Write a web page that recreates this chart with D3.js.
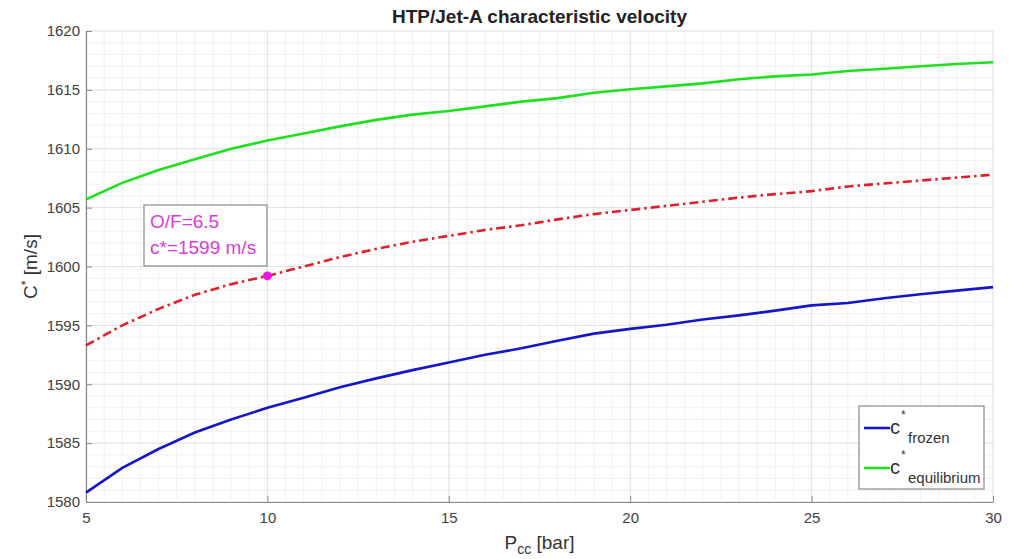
<!DOCTYPE html>
<html>
<head>
<meta charset="utf-8">
<script src="https://cdn.jsdelivr.net/npm/d3@7"></script>
<style>
  body { margin: 0; background: #fff; }
  svg { font-family: "Liberation Sans", Arial, sans-serif; }
</style>
</head>
<body>
<svg id="canvas" width="1022" height="559"></svg>
<script>
// chamber pressure [bar]
let pcc = [5, 6, 7, 8, 9, 10, 11, 12, 13, 14, 15, 16, 17, 18, 19, 20, 21, 22, 23, 24, 25, 26, 27, 28, 29, 30]

// c* values [m/s]
let c_frozen = [1580.8, 1582.9, 1584.5, 1585.9, 1587.0, 1588.0, 1588.85, 1589.75, 1590.5, 1591.2,
                1591.85, 1592.5, 1593.05, 1593.7, 1594.3, 1594.7, 1595.05, 1595.5, 1595.85, 1596.25,
                1596.7, 1596.9, 1597.3, 1597.65, 1597.95, 1598.25]
let c_equil = [1605.7, 1607.1, 1608.2, 1609.1, 1610.0, 1610.7, 1611.3, 1611.9, 1612.45, 1612.9,
               1613.2, 1613.6, 1614.0, 1614.3, 1614.75, 1615.05, 1615.3, 1615.55, 1615.9, 1616.15,
               1616.3, 1616.6, 1616.8, 1617.0, 1617.2, 1617.35]
let c_of65 = [1593.3, 1595.0, 1596.4, 1597.6, 1598.5, 1599.2, 1600.0, 1600.8, 1601.5, 1602.1,
              1602.6, 1603.1, 1603.5, 1604.0, 1604.45, 1604.8, 1605.15, 1605.5, 1605.85, 1606.15,
              1606.4, 1606.8, 1607.05, 1607.3, 1607.55, 1607.8]

let x_ticks = [5, 10, 15, 20, 25, 30]
let y_ticks = [1580, 1585, 1590, 1595, 1600, 1605, 1610, 1615, 1620]

let point_p = 10
let point_c = 1599.2
let note_lines = ['O/F=6.5', 'c*=1599 m/s']

let canvas = d3.select('#canvas')

let pLeft = 86, pRight = 993, pTop = 31, pBottom = 502

let xScale = d3.scaleLinear().domain([5, 30]).range([pLeft, pRight])
let yScale = d3.scaleLinear().domain([1580, 1620]).range([pBottom, pTop])

// grid - minor first, then major
let minorX = d3.range(5, 30.01, 0.5)
let minorY = d3.range(1580, 1620.01, 1)

canvas.append('g').selectAll('line')
    .data(minorX)
    .enter()
    .append('line')
    .attr('x1', d => xScale(d)).attr('x2', d => xScale(d))
    .attr('y1', pTop).attr('y2', pBottom)
    .attr('stroke', '#f1f1f1').attr('stroke-width', 1)

canvas.append('g').selectAll('line')
    .data(minorY)
    .enter()
    .append('line')
    .attr('y1', d => yScale(d)).attr('y2', d => yScale(d))
    .attr('x1', pLeft).attr('x2', pRight)
    .attr('stroke', '#f1f1f1').attr('stroke-width', 1)

canvas.append('g').selectAll('line')
    .data(x_ticks)
    .enter()
    .append('line')
    .attr('x1', d => xScale(d)).attr('x2', d => xScale(d))
    .attr('y1', pTop).attr('y2', pBottom)
    .attr('stroke', '#e2e2e2').attr('stroke-width', 1)

canvas.append('g').selectAll('line')
    .data(y_ticks)
    .enter()
    .append('line')
    .attr('y1', d => yScale(d)).attr('y2', d => yScale(d))
    .attr('x1', pLeft).attr('x2', pRight)
    .attr('stroke', '#e2e2e2').attr('stroke-width', 1)

// axes
let xAxis = d3.axisBottom(xScale).tickValues(x_ticks).tickSize(-6).tickPadding(10).tickSizeOuter(0)
let yAxis = d3.axisLeft(yScale).tickValues(y_ticks).tickFormat(d3.format('d')).tickSize(-6).tickPadding(6).tickSizeOuter(0)

let gx = canvas.append('g').attr('transform', 'translate(0,' + pBottom + ')').call(xAxis)
let gy = canvas.append('g').attr('transform', 'translate(' + pLeft + ',0)').call(yAxis)

for (let g of [gx, gy]) {
    g.select('.domain').attr('stroke', '#8a8a8a').attr('stroke-width', 1.2)
    g.selectAll('.tick line').attr('stroke', '#8a8a8a')
    g.selectAll('.tick text').attr('fill', '#404040').style('font-size', '15px').style('font-family', '"Liberation Sans", Arial, sans-serif')
}

// curves
let line = (vals) => d3.line()
    .x((d, i) => xScale(pcc[i]))
    .y(d => yScale(d))(vals)

canvas.append('path')
    .attr('d', line(c_equil))
    .attr('fill', 'none').attr('stroke', '#1ee01e').attr('stroke-width', 2.6)

canvas.append('path')
    .attr('d', line(c_of65))
    .attr('fill', 'none').attr('stroke', '#e0202a').attr('stroke-width', 2.6)
    .attr('stroke-dasharray', '9,4,2.5,4')

canvas.append('path')
    .attr('d', line(c_frozen))
    .attr('fill', 'none').attr('stroke', '#1616c8').attr('stroke-width', 2.6)

// operating point
canvas.append('circle')
    .attr('cx', xScale(point_p)).attr('cy', yScale(point_c))
    .attr('r', 4.5).attr('fill', '#f014e8')

// note box
canvas.append('rect')
    .attr('x', 144).attr('y', 205).attr('width', 123).attr('height', 61)
    .attr('fill', '#fff').attr('stroke', '#8a8a8a').attr('stroke-width', 1.2)

canvas.append('g').selectAll('text')
    .data(note_lines)
    .enter()
    .append('text')
    .attr('x', 150).attr('y', (d, i) => 228 + i * 26)
    .attr('fill', '#d83cd8').style('font-size', '19px')
    .text(d => d)

// title
canvas.append('text')
    .attr('x', (pLeft + pRight) / 2).attr('y', 23)
    .attr('text-anchor', 'middle').attr('fill', '#222')
    .style('font-size', '19px').style('font-weight', 'bold')
    .text('HTP/Jet-A characteristic velocity')

// x label
let xl = canvas.append('text')
    .attr('x', (pLeft + pRight) / 2).attr('y', 549)
    .attr('text-anchor', 'middle').attr('fill', '#333').style('font-size', '19px')
xl.append('tspan').text('P')
xl.append('tspan').attr('dy', 5).style('font-size', '14px').text('cc')
xl.append('tspan').attr('dy', -5).text(' [bar]')

// y label
let yl = canvas.append('text')
    .attr('transform', 'translate(37,' + ((pTop + pBottom) / 2) + ') rotate(-90)')
    .attr('text-anchor', 'middle').attr('fill', '#333').style('font-size', '19px')
yl.append('tspan').text('C')
yl.append('tspan').attr('dy', -7).style('font-size', '12px').text('*')
yl.append('tspan').attr('dy', 7).text(' [m/s]')

// legend
let legend = canvas.append('g')
legend.append('rect')
    .attr('x', 859).attr('y', 406).attr('width', 125).attr('height', 83)
    .attr('fill', '#fff').attr('stroke', '#8a8a8a').attr('stroke-width', 1.2)

let leg_items = [
    { name: 'frozen', color: '#1616c8', y: 428 },
    { name: 'equilibrium', color: '#1ee01e', y: 468 }
]
leg_items.forEach(item => {
    legend.append('line')
        .attr('x1', 864).attr('x2', 890).attr('y1', item.y).attr('y2', item.y)
        .attr('stroke', item.color).attr('stroke-width', 2.6)
    let t = legend.append('text')
        .attr('x', 890).attr('y', item.y + 6)
        .attr('fill', '#333').style('font-size', '20px')
    t.append('tspan').text('c')
    t.append('tspan').attr('x', 901).attr('dy', -15).style('font-size', '12px').text('*')
    t.append('tspan').attr('x', 908).attr('dy', 24).style('font-size', '15px').text(item.name)
})
</script>
</body>
</html>
